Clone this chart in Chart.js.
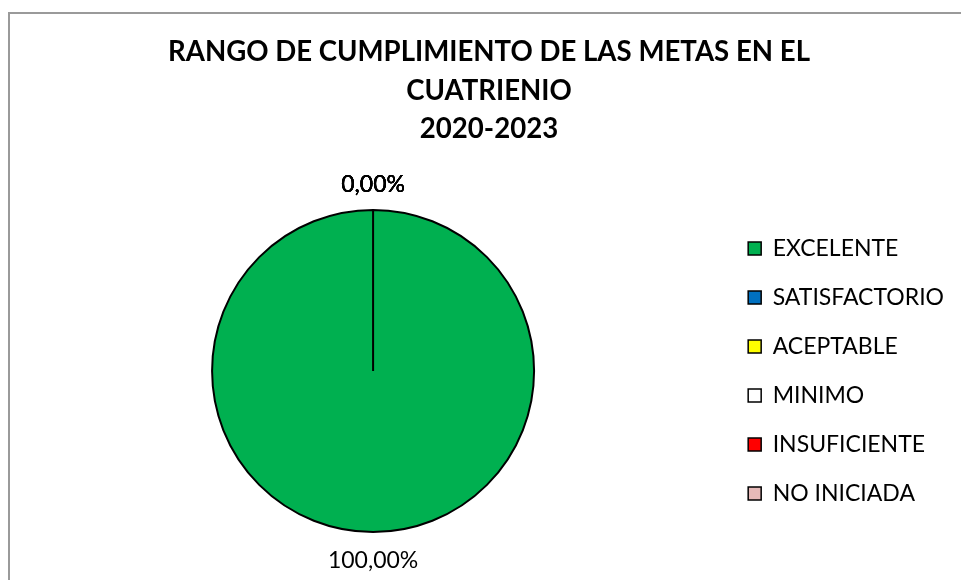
<!DOCTYPE html>
<html>
<head>
<meta charset="utf-8">
<script src="https://cdn.jsdelivr.net/npm/chart.js@4"></script>
<style>
  html, body { margin: 0; padding: 0; background: #fff; overflow: hidden; }
  #frame {
    position: absolute; left: 8px; top: 12px; width: 1000px; height: 1000px;
    border: 2px solid #9a9a9a; box-sizing: border-box;
  }
  #wrap { position: absolute; left: 0; top: 0; width: 961px; height: 580px; }
</style>
</head>
<body>
<div id="frame"></div>
<div id="wrap"><canvas id="myChart" width="961" height="580"></canvas></div>
<script>
const titleLines = ['RANGO DE CUMPLIMIENTO DE LAS METAS EN EL', 'CUATRIENIO', '2020-2023'];
const categories = ['EXCELENTE', 'SATISFACTORIO', 'ACEPTABLE', 'MINIMO', 'INSUFICIENTE', 'NO INICIADA'];
const metas = [100, 0, 0, 0, 0, 0];
const colors = ['#00b050', '#0070c0', '#ffff00', '#ffffff', '#ff0000', '#e6b9b8'];

// percentage labels just outside the rim, one per slice
const sliceLabels = {
  id: 'sliceLabels',
  afterDatasetsDraw(chart) {
    const ctx = chart.ctx;
    const values = chart.data.datasets[0].data;
    const total = values.reduce((a, b) => a + b, 0);
    ctx.save();
    ctx.font = '23px Lato';
    ctx.fillStyle = '#000';
    ctx.textAlign = 'center';
    ctx.textBaseline = 'middle';
    chart.getDatasetMeta(0).data.forEach((arc, i) => {
      const p = arc.getProps(['x', 'y', 'startAngle', 'endAngle', 'outerRadius'], true);
      const mid = (p.startAngle + p.endAngle) / 2;
      const r = p.outerRadius + 27;
      const txt = (values[i] / total * 100).toFixed(2).replace('.', ',') + '%';
      ctx.fillText(txt, p.x + Math.cos(mid) * r, p.y + Math.sin(mid) * r + 2);
    });
    ctx.restore();
  }
};

const ctx = document.getElementById('myChart').getContext('2d');
const myChart = new Chart(ctx, {
  type: 'pie',
  data: {
    labels: categories,
    datasets: [{
      data: metas,
      backgroundColor: colors,
      borderColor: '#000',
      borderWidth: 2,
      radius: 161
    }]
  },
  options: {
    responsive: false,
    animation: false,
    layout: { padding: { left: 24, right: 7, top: 0, bottom: 0 } },
    plugins: {
      title: {
        display: true,
        text: titleLines,
        color: '#000',
        font: { family: 'Lato', size: 27.6, weight: 'bold', lineHeight: '38.5px' },
        padding: { top: 33, bottom: 13.5 }
      },
      legend: {
        position: 'right',
        fullSize: false,
        labels: {
          color: '#000',
          font: { family: 'Lato', size: 23 },
          boxWidth: 13,
          boxHeight: 13,
          padding: 26,
          generateLabels(chart) {
            const items = Chart.overrides.pie.plugins.legend.labels.generateLabels(chart);
            return items.map(it => Object.assign(it, { lineWidth: 1.5 }));
          }
        }
      },
      tooltip: { enabled: false }
    }
  },
  plugins: [sliceLabels]
});
</script>
</body>
</html>
